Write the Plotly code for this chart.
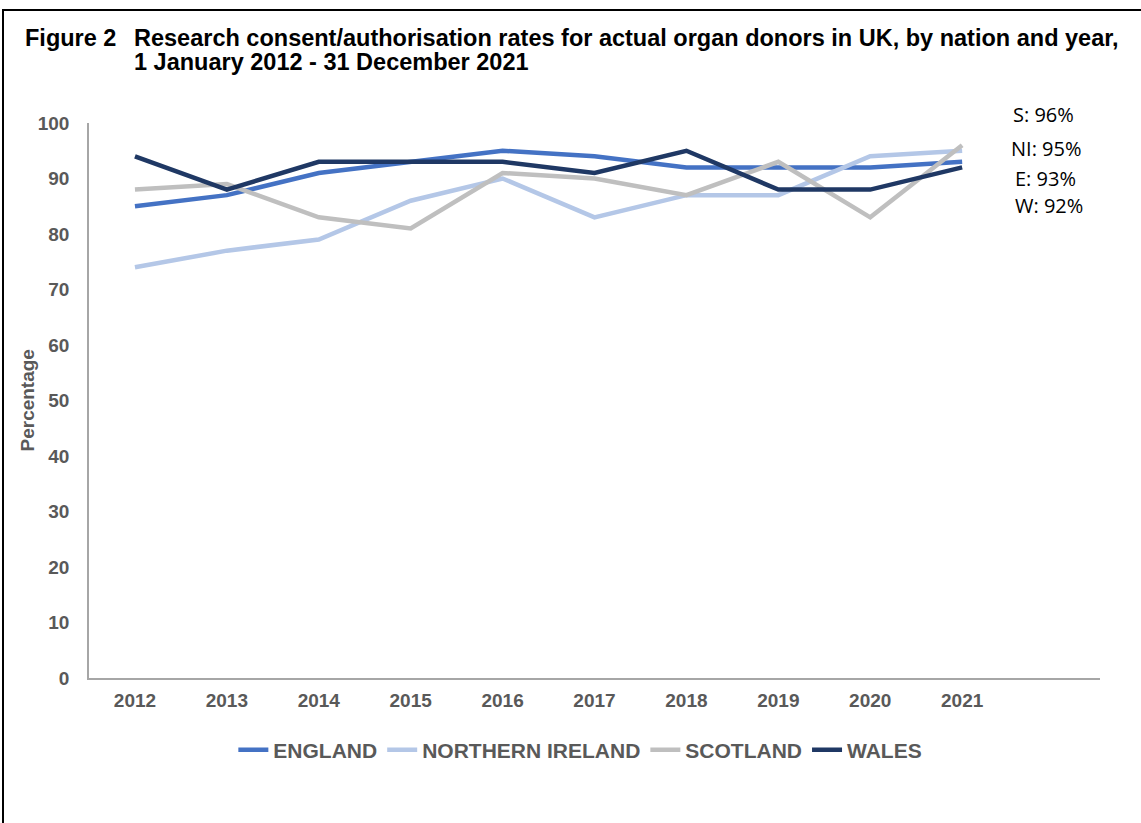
import plotly.graph_objects as go

years = [2012, 2013, 2014, 2015, 2016, 2017, 2018, 2019, 2020, 2021]
england = [85, 87, 91, 93, 95, 94, 92, 92, 92, 93]
northern_ireland = [74, 77, 79, 86, 90, 83, 87, 87, 94, 95]
scotland = [88, 89, 83, 81, 91, 90, 87, 93, 83, 96]
wales = [94, 88, 93, 93, 93, 91, 95, 88, 88, 92]

series_names = ["ENGLAND", "NORTHERN IRELAND", "SCOTLAND", "WALES"]
series_colors = ["#4472C4", "#B4C7E7", "#BFBFBF", "#1F3864"]
end_labels = ["S: 96%", "NI: 95%", "E: 93%", "W: 92%"]

W, H = 1141, 823
L, R, T, B = 89, 41, 123, 145
pw, ph = W - L - R, H - T - B


def px_x(x):
    return (x - L) / pw


def px_y(y):
    return (H - B - y) / ph


fig = go.Figure()
for name, vals, col in zip(series_names, [england, northern_ireland, scotland, wales], series_colors):
    fig.add_trace(go.Scatter(
        x=years, y=vals, name=name, mode="lines",
        line=dict(color=col, width=4.5),
    ))

grey = "#595959"
title_font = dict(size=23.5, color="black", family="Liberation Sans")
annotations = [
    dict(text="<b>Figure 2</b>", x=px_x(23), y=px_y(38), xanchor="left", yanchor="middle", font=title_font),
    dict(text="<b>Research consent/authorisation rates for actual organ donors in UK, by nation and year,</b>",
         x=px_x(132), y=px_y(38), xanchor="left", yanchor="middle", font=title_font),
    dict(text="<b>1 January 2012 - 31 December 2021</b>",
         x=px_x(132), y=px_y(62), xanchor="left", yanchor="middle", font=title_font),
    dict(text="<b>Percentage</b>", x=px_x(27), y=0.5, textangle=-90,
         xanchor="center", yanchor="middle",
         font=dict(size=19, color=grey, family="Liberation Sans")),
]
label_pos = [(1011, 115), (1009, 148), (1013, 178), (1013, 205)]
for txt, (lx, ly) in zip(end_labels, label_pos):
    annotations.append(dict(text=txt, x=px_x(lx), y=px_y(ly), xanchor="left", yanchor="middle",
                            font=dict(size=20, color="black", family="Open Sans")))
for a in annotations:
    a.update(xref="paper", yref="paper", showarrow=False)

fig.update_layout(
    width=W, height=H,
    margin=dict(l=L, r=R, t=T, b=B),
    paper_bgcolor="white", plot_bgcolor="white",
    font=dict(family="Liberation Sans", color=grey),
    annotations=annotations,
    showlegend=True,
    legend=dict(orientation="h", x=0.486, xanchor="center", y=px_y(750), yanchor="middle",
                font=dict(size=21, color=grey, family="Liberation Sans", weight="bold"),
                itemwidth=30, tracegroupgap=0),
    # outer frame, running off the right and bottom edges as in the source
    shapes=[dict(type="rect", xref="paper", yref="paper",
                 x0=px_x(3), x1=px_x(1150), y0=px_y(830), y1=px_y(10),
                 line=dict(color="black", width=2), fillcolor="rgba(0,0,0,0)")],
)
fig.update_xaxes(
    range=[2011.5, 2022.5], tickvals=years, ticktext=[f"<b>{y}</b>" for y in years],
    showgrid=False, zeroline=False, showline=True, linecolor="#A6A6A6", linewidth=1.5,
    ticks="", tickfont=dict(size=19, color=grey), ticklabelstandoff=4,
)
fig.update_yaxes(
    range=[0, 100], dtick=10, tickvals=list(range(0, 101, 10)),
    ticktext=[f"<b>{v}</b>" for v in range(0, 101, 10)],
    showgrid=False, zeroline=False, showline=True, linecolor="#A6A6A6", linewidth=1.5,
    ticks="", tickfont=dict(size=19, color=grey), ticklabelstandoff=14,
)

fig.write_html("out.html", config={"displayModeBar": False},
               post_script="document.body.style.margin='0';")
